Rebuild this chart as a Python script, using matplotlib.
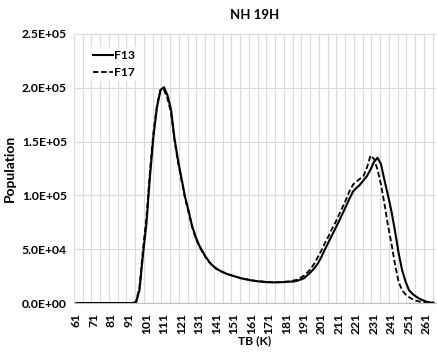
import matplotlib
matplotlib.use('Agg')
import matplotlib.pyplot as plt
import matplotlib.ticker as ticker
import numpy as np

# parameters
TITLE = 'NH 19H'
X_LABEL = 'TB (K)'
Y_LABEL = 'Population'
GRID_COLOR = '#d9d9d9'
TICK_SIZE = 8.7

plt.rcParams['font.family'] = ['Lato', 'DejaVu Sans']
plt.rcParams['font.weight'] = 'bold'

# brightness temperature categories (every 2 K)
tb = np.arange(61, 267, 2)

# population in thousands
f13 = [0, 0, 0, 0, 0, 0, 0, 0, 0, 0, 0, 0, 0, 0, 0, 0,
       0, 0.5, 12, 45, 74, 118, 155, 182, 198, 200.5, 193, 180, 153, 133,
       116, 99, 86, 72, 62, 54, 48, 42.5, 38, 34.5, 32, 30, 28.5, 27, 26,
       25, 24, 23, 22.3, 21.6, 21, 20.5, 20.1, 19.8, 19.5, 19.3, 19.2, 19.2,
       19.3, 19.4, 19.6, 19.8, 20, 20.6, 21.8, 23, 26, 29, 32.5, 37, 43,
       50, 56.5, 63, 69.5, 76, 83, 90, 97, 103.6, 107, 110, 114, 118, 124, 131,
       135, 129, 114, 100, 85, 67, 47, 31, 20, 12, 8.5, 6, 4, 2.5, 1.3, 0.6, 0.3]
f17 = [0, 0, 0, 0, 0, 0, 0, 0, 0, 0, 0, 0, 0, 0, 0, 0,
       0, 1, 15, 50, 80, 123, 159, 184, 198, 198, 190, 177, 151, 131,
       114, 97.5, 84.5, 71, 61, 53, 47.5, 42, 37.5, 34, 31.7, 29.8, 28.3, 27, 26,
       25, 24, 23, 22.4, 21.8, 21.2, 20.7, 20.3, 20, 19.7, 19.5, 19.4, 19.4,
       19.4, 19.6, 19.9, 20.3, 20.9, 21.6, 23.5, 25.5, 28.5, 32, 37, 43, 49,
       56, 62, 69, 75, 82, 89, 96, 104, 110, 113, 115.5, 118, 126, 137, 134,
       124, 110, 92, 72, 55, 36, 20, 12, 8, 5.5, 3.5, 2.2, 1.3, 0.7, 0.3, 0.1, 0]

x_tick_labels = list(range(61, 262, 10))

fig = plt.figure(figsize=(4.37, 3.54), dpi=100)
ax = fig.add_axes([0.169, 0.144, 0.829, 0.76])

ax.plot(tb, np.array(f13) * 1000, color='black', lw=1.5, label='F13')
ax.plot(tb, np.array(f17) * 1000, color='black', lw=1.3, ls=(0, (3, 1.5)), label='F17')

ax.set_xlim(59.5, 266.5)
ax.set_ylim(0, 2.5e5)

# gridlines every 5 categories, labels every 10
ax.xaxis.set_minor_locator(ticker.FixedLocator(np.arange(59.5, 267, 5)))
ax.xaxis.set_major_locator(ticker.FixedLocator(x_tick_labels))
ax.set_xticklabels([str(v) for v in x_tick_labels], rotation=90, fontsize=TICK_SIZE, fontweight='bold')
ax.grid(which='minor', axis='x', color=GRID_COLOR, lw=0.8)
ax.yaxis.set_major_locator(ticker.MultipleLocator(5e4))
ax.yaxis.set_major_formatter(ticker.FuncFormatter(lambda v, p: f'{v:.1E}'))
ax.grid(which='major', axis='y', color=GRID_COLOR, lw=0.8)
ax.set_axisbelow(True)
for lbl in ax.get_yticklabels():
    lbl.set_fontsize(TICK_SIZE)
    lbl.set_fontweight('bold')
ax.tick_params(axis='x', which='both', length=0, pad=7)
ax.tick_params(axis='y', which='both', length=0, pad=5)

for side in ['top', 'right', 'left']:
    ax.spines[side].set_visible(False)
ax.spines['bottom'].set_color('#bfbfbf')

ax.set_title(TITLE, fontsize=9.5, fontweight='bold', pad=11)
ax.set_xlabel(X_LABEL, fontsize=8.7, fontweight='bold', labelpad=1)
ax.set_ylabel(Y_LABEL, fontsize=10, fontweight='bold', labelpad=4)

leg = ax.legend(loc='upper left', bbox_to_anchor=(0.025, 0.975), frameon=True, fontsize=TICK_SIZE,
                handlelength=1.7, handletextpad=0.1, labelspacing=0.45, borderpad=0.3)
leg.get_frame().set_facecolor('white')
leg.get_frame().set_edgecolor('none')
leg.get_frame().set_alpha(1)

plt.savefig('out.png', dpi=100)
plt.close()
